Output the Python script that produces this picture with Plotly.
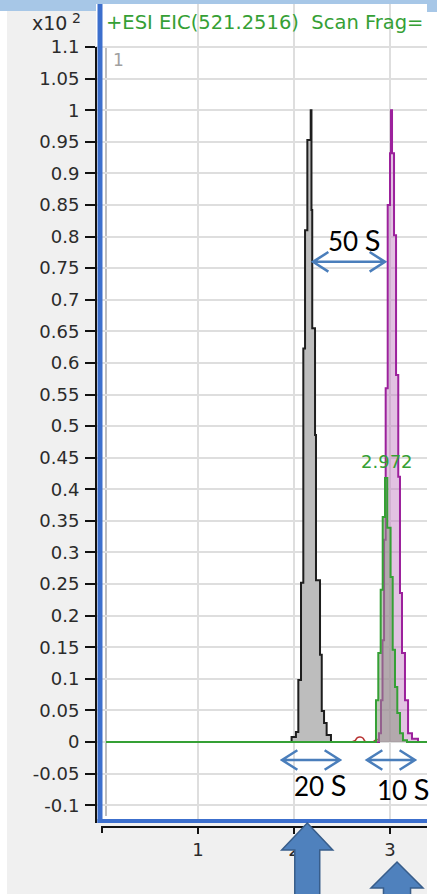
import plotly.graph_objects as go

W, H = 437, 894
ML, MR, MT, MB = 96, 10, 4, 67

# Extracted ion chromatograms: retention time (min) and intensity (x10^2 counts)
gray_time = [1.85, 1.975, 2.020, 2.045, 2.073, 2.097, 2.115, 2.139, 2.174, 2.182,
             2.190, 2.219, 2.229, 2.271, 2.289, 2.313, 2.340, 2.385, 2.427, 2.55]
gray_int = [0.0, 0.0, 0.008, 0.016, 0.098, 0.252, 0.623, 0.810, 0.953, 1.000,
            0.842, 0.655, 0.486, 0.256, 0.138, 0.049, 0.030, 0.011, 0.0, 0.0]

magenta_time = [2.69, 2.885, 2.906, 2.922, 2.938, 2.955, 2.976, 3.000, 3.010, 3.021,
                3.042, 3.063, 3.086, 3.104, 3.125, 3.156, 3.188, 3.229, 3.292, 3.385]
magenta_int = [0.0, 0.0, 0.014, 0.066, 0.161, 0.320, 0.560, 0.850, 0.932, 1.000,
               0.932, 0.802, 0.581, 0.420, 0.236, 0.141, 0.066, 0.014, 0.005, 0.0]

red_time = [2.60, 2.635, 2.66, 2.69, 2.72, 2.74, 2.78, 2.82, 2.85, 2.87, 2.89]
red_int = [0.0, 0.002, 0.007, 0.008, 0.006, 0.001, 0.0, 0.0, 0.003, 0.004, 0.0]

green_time = [0.04, 2.854, 2.878, 2.903, 2.924, 2.948, 2.972, 3.006, 3.028, 3.052,
              3.076, 3.104, 3.135, 3.177, 3.385]
green_int = [0.0, 0.0, 0.066, 0.141, 0.241, 0.356, 0.418, 0.339, 0.261, 0.146,
             0.087, 0.046, 0.014, 0.003, 0.0]

# Axis ticks
y_tick_vals = [1.1, 1.05, 1.0, 0.95, 0.9, 0.85, 0.8, 0.75, 0.7, 0.65, 0.6, 0.55, 0.5,
               0.45, 0.4, 0.35, 0.3, 0.25, 0.2, 0.15, 0.1, 0.05, 0.0, -0.05, -0.1]
y_tick_text = ["1.1", "1.05", "1", "0.95", "0.9", "0.85", "0.8", "0.75", "0.7", "0.65",
               "0.6", "0.55", "0.5", "0.45", "0.4", "0.35", "0.3", "0.25", "0.2", "0.15",
               "0.1", "0.05", "0", "-0.05", "-0.1"]
x_tick_vals = [1, 2, 3]
x_tick_text = ["1", "2", "3"]
x_origin = 0

# Peak-width / spacing callouts: (start time, end time, level, seconds, label x, label y)
spans = [
    (2.198, 2.948, 0.760, "50", 2.635, 0.795),
    (1.875, 2.479, -0.0285, "20", 2.281, -0.068),
    (2.760, 3.260, -0.0285, "10", 3.141, -0.073),
]

# Block arrows under the time axis: (centre time, tip, head base, head half-width, shaft half-width)
pointers = [
    (2.138, 0.0049, -0.0279, 0.266, 0.130),
    (3.073, -0.0425, -0.0741, 0.271, 0.141),
]

X_RANGE = [-0.0625, 3.3854]
Y_RANGE = [-0.1345, 1.1681]

GREEN = "#35a035"
BLUE = "#3c6fcd"
PANEL = "#f0f0f0"
FONT = "DejaVu Sans"


def xp(px):
    return (px - ML) / (W - ML - MR)


def yp(py):
    return (H - MB - py) / (H - MT - MB)


fig = go.Figure()

fig.add_trace(go.Scatter(
    x=gray_time, y=gray_int, mode="lines", line_shape="vh",
    line=dict(color="#1e1e1e", width=2), fill="tozeroy", fillcolor="#bdbdbd",
    hoverinfo="skip"))
fig.add_trace(go.Scatter(
    x=red_time, y=red_int, mode="lines", line_shape="spline",
    line=dict(color="#b83232", width=1.6), hoverinfo="skip"))
fig.add_trace(go.Scatter(
    x=magenta_time, y=magenta_int, mode="lines", line_shape="vh",
    line=dict(color="#9c219c", width=2), fill="tozeroy",
    fillcolor="rgba(190,120,190,0.45)", hoverinfo="skip"))
fig.add_trace(go.Scatter(
    x=green_time, y=green_int, mode="lines", line_shape="vh",
    line=dict(color=GREEN, width=2), fill="tozeroy",
    fillcolor="rgba(140,150,130,0.55)", hoverinfo="skip"))

shapes = []

# Window chrome around the chart
shapes += [
    dict(type="rect", xref="paper", yref="paper", x0=xp(0), x1=xp(W), y0=yp(0), y1=yp(4),
         fillcolor="#a7c7e7", line_width=0, layer="below"),
    dict(type="rect", xref="paper", yref="paper", x0=xp(0), x1=xp(96), y0=yp(0), y1=yp(11),
         fillcolor="#a7c7e7", line_width=0, layer="below"),
    dict(type="rect", xref="paper", yref="paper", x0=xp(427), x1=xp(W), y0=yp(0), y1=yp(12),
         fillcolor="#a7c7e7", line_width=0, layer="below"),
    dict(type="rect", xref="paper", yref="paper", x0=xp(0), x1=xp(7), y0=yp(11), y1=yp(H),
         fillcolor="white", line_width=0, layer="below"),
    dict(type="rect", xref="paper", yref="paper", x0=xp(427), x1=xp(W), y0=yp(12), y1=yp(H),
         fillcolor="white", line_width=0, layer="below"),
    # header strip above the grid
    dict(type="rect", xref="paper", yref="paper", x0=0, x1=1, y0=yp(46), y1=1,
         fillcolor="white", line_width=0, layer="between"),
    # inner frame
    dict(type="line", xref="paper", yref="paper", x0=xp(106), x1=xp(106), y0=yp(46), y1=yp(816),
         line=dict(color="#a9a9a9", width=1.5), layer="between"),
    # gap between the blue frame and the time axis
    dict(type="rect", xref="paper", yref="paper", x0=0, x1=1, y0=0, y1=yp(823),
         fillcolor=PANEL, line_width=0, layer="above"),
    # blue frame
    dict(type="rect", xref="paper", yref="paper", x0=xp(97.5), x1=xp(102.5), y0=yp(823), y1=1,
         fillcolor=BLUE, line_width=0, layer="above"),
    dict(type="rect", xref="paper", yref="paper", x0=xp(97.5), x1=1, y0=yp(823), y1=yp(819),
         fillcolor=BLUE, line_width=0, layer="above"),
    # black axis lines and the origin tick of the time axis
    dict(type="line", xref="paper", yref="paper", x0=xp(96), x1=xp(96), y0=yp(47), y1=yp(823),
         line=dict(color="#111111", width=2), layer="above"),
    dict(type="line", xref="paper", yref="paper", x0=xp(101), x1=1, y0=0, y1=0,
         line=dict(color="#111111", width=2), layer="above"),
    dict(type="line", xref="x", yref="paper", x0=x_origin, x1=x_origin, y0=0, y1=yp(833),
         line=dict(color="#111111", width=2), layer="above"),
]

# Double-headed callout arrows
hx, hy = 0.16, 0.0155
for t0, t1, lvl, _, _, _ in spans:
    path = (f"M {t0},{lvl} L {t1},{lvl} "
            f"M {t0 + hx},{lvl + hy} L {t0},{lvl} L {t0 + hx},{lvl - hy} "
            f"M {t1 - hx},{lvl + hy} L {t1},{lvl} L {t1 - hx},{lvl - hy}")
    shapes.append(dict(type="path", xref="x", yref="y", path=path,
                       line=dict(color="#4a7ebb", width=2.5), layer="above"))

# Block arrows pointing up at the peaks
for c, tip, base, hw, sw in pointers:
    bottom = yp(H + 10)
    path = (f"M {c},{tip} L {c + hw},{base} L {c + sw},{base} L {c + sw},{bottom} "
            f"L {c - sw},{bottom} L {c - sw},{base} L {c - hw},{base} Z")
    shapes.append(dict(type="path", xref="x", yref="paper", path=path,
                       fillcolor="#4f81bd", line=dict(color="#385d8a", width=1.5),
                       layer="above"))

annotations = [
    # trace header
    dict(xref="paper", yref="paper", x=xp(104), y=yp(23), xanchor="left", yanchor="middle",
         text="+ESI EIC(521.2516)  Scan Frag=", showarrow=False,
         font=dict(family=FONT, size=19.5, color=GREEN)),
    dict(xref="paper", yref="paper", x=xp(69), y=yp(23), xanchor="right", yanchor="middle",
         text="x10", showarrow=False,
         font=dict(family=FONT, size=19, color="#2b2b2b")),
    dict(xref="paper", yref="paper", x=xp(83), y=yp(18), xanchor="right", yanchor="middle",
         text="2", showarrow=False,
         font=dict(family=FONT, size=14, color="#2b2b2b")),
    dict(xref="paper", yref="paper", x=xp(111), y=yp(60), xanchor="left", yanchor="middle",
         text="1", showarrow=False, font=dict(family=FONT, size=17, color="#a0a0a0")),
]

apex = green_int.index(max(green_int))
annotations.append(dict(
    x=green_time[apex], y=green_int[apex], xref="x", yref="y", yshift=16,
    text=f"{green_time[apex]:.3f}", showarrow=False, xanchor="center", yanchor="middle",
    font=dict(family=FONT, size=18, color=GREEN)))

for _, _, _, secs, tx, ty in spans:
    annotations.append(dict(
        x=tx, y=ty, xref="x", yref="y", showarrow=False, xanchor="center", yanchor="middle",
        text=f"{secs} <span style='font-size:29px'>S</span>",
        font=dict(family="Lato", size=26, color="black")))

fig.update_layout(
    width=W, height=H,
    margin=dict(l=ML, r=MR, t=MT, b=MB, pad=0),
    paper_bgcolor=PANEL, plot_bgcolor="white",
    showlegend=False,
    shapes=shapes, annotations=annotations,
    xaxis=dict(range=X_RANGE, tickvals=x_tick_vals, ticktext=x_tick_text,
               showgrid=True, gridcolor="#dedede", gridwidth=2, zeroline=False,
               showline=False, ticks="outside", ticklen=6, tickwidth=2, tickcolor="#111111",
               tickfont=dict(family=FONT, size=18, color="#2b2b2b"), ticklabelstandoff=0),
    yaxis=dict(range=Y_RANGE, tickvals=y_tick_vals, ticktext=y_tick_text,
               showgrid=True, gridcolor="#dedede", gridwidth=2, zeroline=False,
               showline=False, ticks="outside", ticklen=10, tickwidth=2, tickcolor="#111111",
               tickfont=dict(family=FONT, size=18, color="#2b2b2b"), ticklabelstandoff=2),
)

fig.write_html("out.html")
